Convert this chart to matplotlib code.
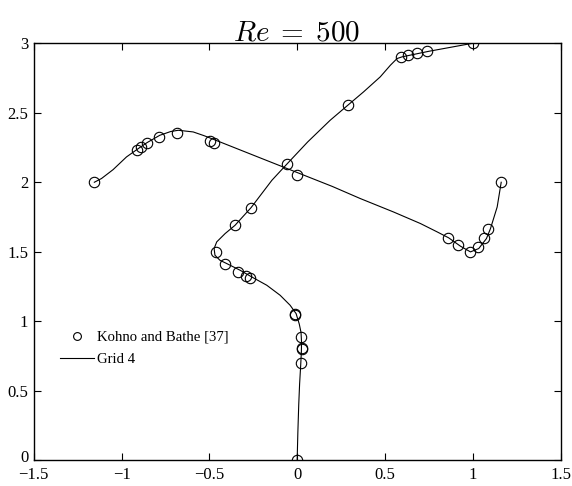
import matplotlib
matplotlib.use("Agg")
import matplotlib.pyplot as plt
import matplotlib.transforms as mtransforms

plt.rcParams['font.family'] = ['Liberation Serif', 'DejaVu Serif']
plt.rcParams['mathtext.fontset'] = 'cm'

# Kohno and Bathe [37] reference points, vertical centreline profile
ref_v_x = [0.0, 0.023, 0.026, 0.026, 0.024, -0.011, -0.013, -0.267, -0.292, -0.336,
           -0.411, -0.460, -0.356, -0.264, -0.059, 0.288, 0.592, 0.633, 0.683, 0.741, 1.0]
ref_v_y = [0.0, 0.699, 0.799, 0.811, 0.885, 1.053, 1.045, 1.313, 1.325, 1.354,
           1.411, 1.498, 1.690, 1.818, 2.130, 2.559, 2.900, 2.913, 2.928, 2.945, 3.0]

# reference points, horizontal centreline profile
ref_h_x = [-1.155, -0.914, -0.891, -0.855, -0.787, -0.683, -0.498, -0.473, 0.0,
           0.860, 0.914, 0.984, 1.028, 1.063, 1.086, 1.162]
ref_h_y = [2.0, 2.233, 2.255, 2.284, 2.327, 2.356, 2.30, 2.284, 2.053,
           1.601, 1.550, 1.500, 1.531, 1.599, 1.666, 2.0]

# Grid 4 solution, vertical centreline
grid_v_x = [0.0, 0.004, 0.009, 0.014, 0.020, 0.024, 0.025, 0.022, 0.012, -0.006,
            -0.04, -0.097, -0.173, -0.259, -0.325, -0.401, -0.44, -0.468, -0.473,
            -0.458, -0.41, -0.354, -0.262, -0.144, -0.059, 0.06, 0.188, 0.293,
            0.378, 0.473, 0.531, 0.569, 0.597, 0.749, 0.87, 1.0]
grid_v_y = [0.0, 0.2, 0.4, 0.55, 0.68, 0.78, 0.85, 0.92, 0.98, 1.055,
            1.115, 1.187, 1.259, 1.319, 1.367, 1.415, 1.439, 1.475, 1.523,
            1.571, 1.631, 1.69, 1.818, 2.014, 2.13, 2.29, 2.446, 2.559,
            2.65, 2.758, 2.842, 2.89, 2.902, 2.942, 2.97, 3.0]

# Grid 4 solution, horizontal centreline
grid_h_x = [-1.155, -1.114, -1.048, -0.972, -0.905, -0.855, -0.782, -0.72, -0.677,
            -0.592, -0.530, -0.487, -0.2, 0.0, 0.2, 0.359, 0.549, 0.702, 0.797,
            0.863, 0.93, 0.987, 1.034, 1.078, 1.101, 1.139, 1.162]
grid_h_y = [2.0, 2.027, 2.091, 2.182, 2.242, 2.285, 2.338, 2.365, 2.374,
            2.362, 2.335, 2.314, 2.17, 2.07, 1.97, 1.883, 1.786, 1.703, 1.643,
            1.60, 1.54, 1.499, 1.523, 1.595, 1.667, 1.822, 2.0]

fig = plt.figure(figsize=(5.72, 4.86), dpi=100)
ax = fig.add_axes([0.059, 0.053, 0.921, 0.858])

ax.plot(ref_v_x, ref_v_y, 'o', mfc='none', mec='k', ms=7.5, mew=0.8,
        label='Kohno and Bathe [37]')
ax.plot(ref_h_x, ref_h_y, 'o', mfc='none', mec='k', ms=7.5, mew=0.8)
ax.plot(grid_v_x, grid_v_y, 'k-', lw=0.8, label='Grid 4')
ax.plot(grid_h_x, grid_h_y, 'k-', lw=0.8)

ax.set_xlim(-1.5, 1.5)
ax.set_ylim(0, 3)
ax.set_xticks([-1.5, -1, -0.5, 0, 0.5, 1, 1.5])
ax.set_yticks([0, 0.5, 1, 1.5, 2, 2.5, 3])
ax.set_xticklabels(['\u22121.5', '\u22121', '\u22120.5', '0', '0.5', '1', '1.5'])
ax.set_yticklabels(['0', '0.5', '1', '1.5', '2', '2.5', '3'])
ax.tick_params(direction='in', top=True, right=True, length=5, width=0.8,
               labelsize=12)
ax.tick_params(axis='x', pad=5)
ax.tick_params(axis='y', pad=4)
for s in ax.spines.values():
    s.set_linewidth(1.0)

# lift the "0" on the y axis a little so it clears the "-1.5" below it
lbl0 = ax.get_yticklabels()[0]
lbl0.set_transform(lbl0.get_transform() +
                   mtransforms.ScaledTranslation(0, 3 / 72, fig.dpi_scale_trans))

ax.set_title(r'$Re\;=\;500$', fontsize=21, pad=2)

ax.legend(loc='upper left', bbox_to_anchor=(0.025, 0.343), frameon=False,
          fontsize=10.6, markerscale=0.75, handlelength=2.3, handletextpad=0.2,
          labelspacing=0.6)

fig.savefig('out.png', dpi=100)
